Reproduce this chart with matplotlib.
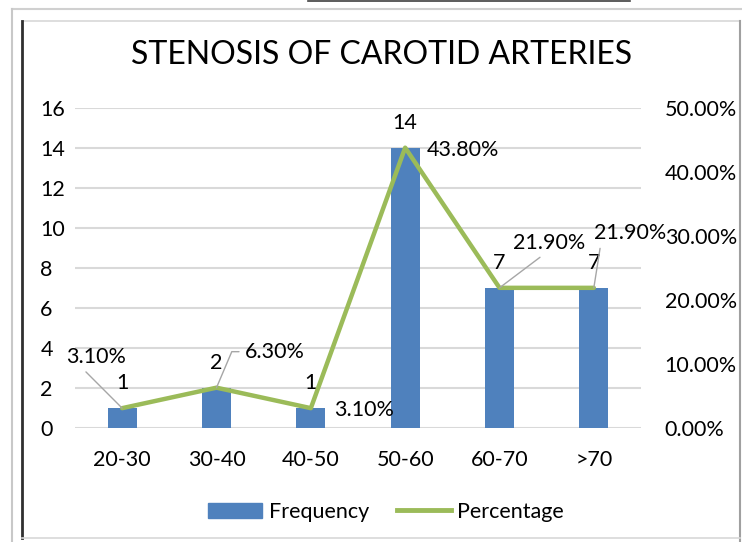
import matplotlib.pyplot as plt
from matplotlib.lines import Line2D
from matplotlib.patches import Patch

# données
categories = ["20-30", "30-40", "40-50", "50-60", "60-70", ">70"]
frequency = [1, 2, 1, 14, 7, 7]
percentage = [0.031, 0.063, 0.031, 0.438, 0.219, 0.219]
pct_labels = ["3.10%", "6.30%", "3.10%", "43.80%", "21.90%", "21.90%"]
left_ticks = [0, 2, 4, 6, 8, 10, 12, 14, 16]
right_ticks = [0.0, 0.1, 0.2, 0.3, 0.4, 0.5]

plt.rcParams['font.family'] = ['Lato', 'DejaVu Sans']

W, H = 742, 542
fig = plt.figure(figsize=(W / 100, H / 100), dpi=100)

bar_color = "#4F81BD"
line_color = "#9BBB59"
grid_color = "#D9D9D9"
fs = 15.5

# zone de tracé (en pixels)
x0, x1, y0, y1 = 75, 641, 428, 108
ax = fig.add_axes([x0 / W, (H - y0) / H, (x1 - x0) / W, (y0 - y1) / H])
ax2 = ax.twinx()

x = list(range(len(categories)))
ax.bar(x, frequency, width=0.31, color=bar_color, zorder=2)
ax.set_xlim(-0.5, len(categories) - 0.5)
ax.set_ylim(0, 16)
ax.set_yticks(left_ticks)
ax.set_xticks(x, categories)
ax.grid(axis='y', color=grid_color, linewidth=1.5, zorder=0)
ax.set_axisbelow(True)
for s in ax.spines.values():
    s.set_visible(False)
ax.tick_params(axis='both', length=0, labelsize=fs)
ax.tick_params(axis='x', pad=16)
ax.tick_params(axis='y', pad=25)
for t in ax.get_yticklabels():
    t.set_horizontalalignment('left')

ax2.plot(x, percentage, color=line_color, linewidth=3.2, solid_capstyle='round',
         solid_joinstyle='round', zorder=3)
ax2.set_ylim(0, 0.5)
ax2.set_yticks(right_ticks, [f"{v * 100:.2f}%" for v in right_ticks])
for s in ax2.spines.values():
    s.set_visible(False)
ax2.tick_params(axis='y', length=0, labelsize=fs, pad=17)

# étiquettes des barres
for xi, f in zip(x, frequency):
    ax.annotate(str(f), (xi, f), xytext=(0, 25), textcoords='offset pixels',
                ha='center', va='center', fontsize=fs, zorder=5)

# étiquettes des pourcentages
offsets = [(-26, 51), (58, 36), (53, -2), (58, -2), (50, 45), (36, 55)]
leaders = [(0.25, 0), (0, 0.5), None, None, (0.45, 0), (0.1, 0)]
styles = ["arc3", "angle,angleA=0,angleB=67,rad=0", None, None, "arc3", "arc3"]
for xi, p, lab, off, rel, cs in zip(x, percentage, pct_labels, offsets, leaders, styles):
    kw = {}
    if rel is not None:
        kw['arrowprops'] = dict(arrowstyle='-', color='#A6A6A6', lw=1.0,
                                relpos=rel, shrinkA=2, shrinkB=0,
                                connectionstyle=cs)
    ax2.annotate(lab, (xi, p), xytext=off, textcoords='offset pixels',
                 ha='center', va='center', fontsize=fs, zorder=5, **kw)

# titre
fig.text(382 / W, 1 - 55 / H, "STENOSIS OF CAROTID ARTERIES", ha='center',
         va='center', fontsize=23)

# légende
handles = [Patch(color=bar_color), Line2D([], [], color=line_color, linewidth=3.5)]
fig.legend(handles, ["Frequency", "Percentage"], loc='center',
           bbox_to_anchor=(386 / W, 1 - 512 / H), ncol=2, frameon=False,
           fontsize=fs, handlelength=2.5, handleheight=0.75, columnspacing=1.3,
           handletextpad=0.3)

# cadres
def hline(y, xa, xb, color, lw):
    fig.add_artist(Line2D([xa / W, xb / W], [1 - y / H, 1 - y / H], color=color, linewidth=lw))

def vline(xp, ya, yb, color, lw):
    fig.add_artist(Line2D([xp / W, xp / W], [1 - ya / H, 1 - yb / H], color=color, linewidth=lw))

hline(1, 308, 630, '#404040', 1.2)
hline(9, 12, 742, '#D0D0D0', 1.5)
vline(12, 9, 542, '#C8C8C8', 1.5)
hline(21, 22, 740, '#D8D8D8', 1.2)
vline(22, 21, 538, '#303030', 2.0)
vline(740, 21, 542, '#A0A0A0', 1.5)
hline(538, 22, 740, '#D8D8D8', 1.2)

fig.savefig("out.png", dpi=100)
